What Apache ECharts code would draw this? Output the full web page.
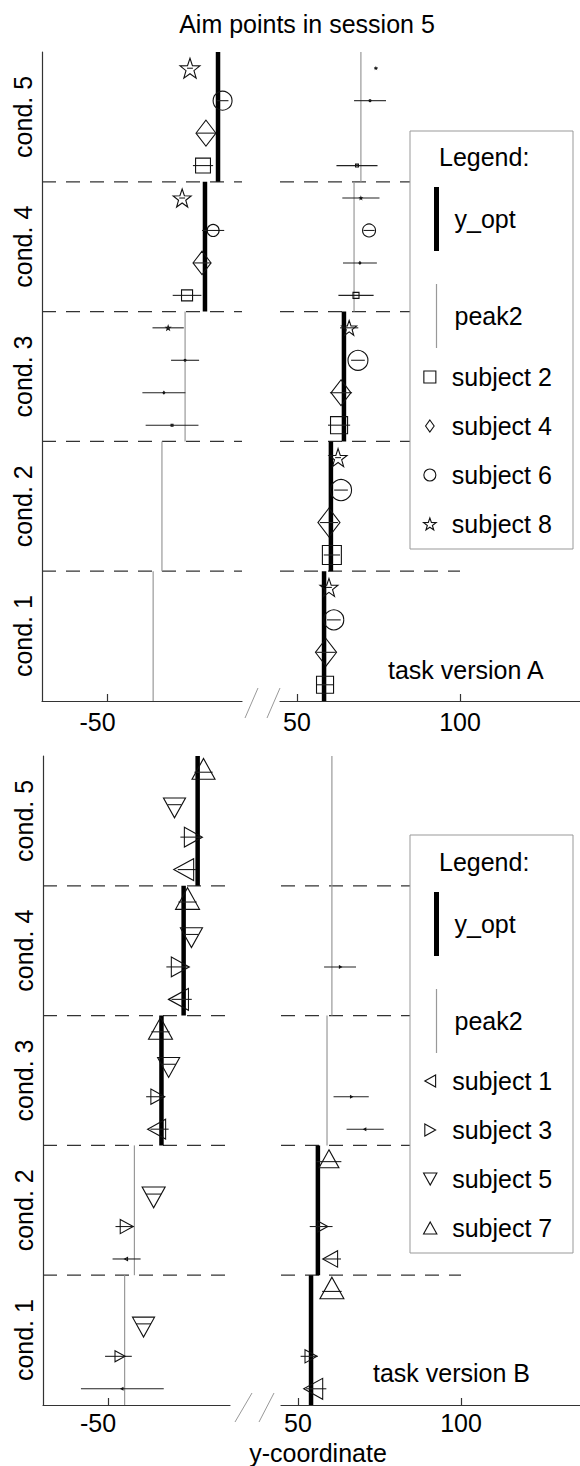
<!DOCTYPE html>
<html><head><meta charset="utf-8">
<script src="https://cdn.jsdelivr.net/npm/echarts@6/dist/echarts.min.js"></script>
<style>html,body{margin:0;padding:0;background:#fff}#c{width:580px;height:1466px}</style>
</head><body><div id="c"></div>
<script>
// ---------- data ----------
const condLabels = ['cond. 1', 'cond. 2', 'cond. 3', 'cond. 4', 'cond. 5'];
const xTicksLeft = [-50];
const xTicksRight = [50, 100];
const boundaries = [1, 2, 3, 4];

// task version A (per condition 1..5)
const yOptA  = [58.3, 60.4, 64.4, -20.1, -16.1];
const peak2A = [-36.0, -33.3, -26.2, 67.5, 69.6];
// rows: [condition, mean, sd, share of aims]
const subject2 = [[1, 58.6, 2.5, 0.71], [2, 60.7, 2.5, 0.79], [3, 62.9, 3.4, 0.71], [3, -30.2, 8.1, 0.08],
                  [4, -25.6, 4.4, 0.46], [4, 68.1, 5.4, 0.25], [5, -20.7, 3.1, 0.62], [5, 68.4, 6.3, 0.12]];
const subject4 = [[1, 58.9, 3.0, 0.88], [2, 59.8, 2.8, 0.92], [3, 63.5, 3.4, 0.83], [3, -32.7, 6.6, 0.08],
                  [4, -21.0, 2.8, 0.75], [4, 69.3, 5.2, 0.08], [5, -19.8, 2.9, 0.83]];
const subject6 = [[1, 61.3, 2.1, 0.83], [2, 63.5, 2.1, 0.88], [3, 68.7, 2.1, 0.83], [3, -26.2, 4.3, 0.08],
                  [4, -17.6, 3.4, 0.50], [4, 72.1, 1.7, 0.54], [5, -14.7, 1.8, 0.79], [5, 72.4, 4.9, 0.08]];
const subject8 = [[1, 59.8, 0.9, 0.75], [2, 62.6, 0.9, 0.75], [3, 66.0, 2.8, 0.62], [3, -31.4, 4.8, 0.17],
                  [4, -27.1, 0.9, 0.75], [4, 69.6, 5.7, 0.08], [5, -24.7, 0.9, 0.83], [5, 74.2, 0.5, 0.05]];

// task version B
const yOptB  = [54.0, 56.1, -33.6, -26.8, -22.5];
const peak2B = [-44.9, -41.9, 58.9, 60.4, 60.4];
const subject1 = [[1, 55.6, 3.1, 0.79], [1, -45.6, 12.7, 0.08], [2, 60.6, 2.6, 0.62], [2, -44.3, 4.3, 0.12],
                  [3, -34.2, 2.8, 0.75], [3, 70.6, 5.7, 0.08], [4, -27.4, 3.1, 0.83], [5, -25.8, 2.8, 0.83]];
const subject3 = [[1, 53.4, 2.6, 0.50], [1, -46.8, 4.1, 0.42], [2, 57.1, 3.5, 0.42], [2, -44.9, 2.8, 0.54],
                  [3, -35.4, 2.9, 0.58], [3, 66.3, 5.4, 0.08], [4, -28.7, 3.4, 0.75], [4, 62.9, 4.9, 0.08],
                  [5, -24.7, 3.1, 0.75]];
const subject5 = [[1, -39.1, 2.3, 0.92], [2, -36.0, 2.3, 0.96], [3, -31.4, 2.2, 0.92], [4, -24.4, 2.0, 0.92],
                  [5, -29.6, 2.1, 0.92]];
const subject7 = [[1, 60.4, 3.0, 1.0], [2, 59.5, 3.8, 0.83], [3, -33.9, 2.8, 1.0], [4, -25.6, 2.8, 1.0],
                  [5, -20.7, 2.8, 0.96]];

// ---------- styling / layout ----------
const FONT = '"Liberation Sans", Arial, sans-serif';
const PXU = 3.26;              // pixels per unit on the x axes
const MARK = 24;               // marker size for share = 1
const SPLIT = 20;              // values below go on the left axis segment

const STAR = (function () {
  let d = '';
  for (let i = 0; i < 10; i++) {
    const r = i % 2 === 0 ? 1 : 0.4;
    const a = -Math.PI / 2 + i * Math.PI / 5;
    d += (i ? 'L' : 'M') + (r * Math.cos(a) + 1).toFixed(3) + ',' + (r * Math.sin(a) + 1).toFixed(3);
  }
  return 'path://' + d + 'Z';
})();
const SYM = {
  square:  {symbol: 'rect', size: s => s, offset: [0, 0], icon: 'path://M0,0H10V10H0Z'},
  diamond: {symbol: 'diamond', size: s => [s, s * 1.3], offset: [0, 0], icon: 'path://M5,0L10,7L5,14L0,7Z'},
  circle:  {symbol: 'circle', size: s => s, offset: [0, 0], icon: 'path://M0,5A5,5,0,1,0,10,5A5,5,0,1,0,0,5Z'},
  star:    {symbol: STAR, size: s => s, offset: [0, 0], icon: STAR},
  tleft:   {symbol: 'path://M0,5L9,0L9,10Z', size: s => [s, s * 1.1], offset: ['-16%', 0], icon: 'path://M0,5L9,0L9,10Z'},
  tright:  {symbol: 'path://M0,0L9,5L0,10Z', size: s => [s, s * 1.1], offset: ['16%', 0], icon: 'path://M0,0L9,5L0,10Z'},
  tdown:   {symbol: 'path://M0,0L10,0L5,9Z', size: s => [s, s * 0.9], offset: [0, '16%'], icon: 'path://M0,0L10,0L5,9Z'},
  tup:     {symbol: 'path://M5,0L10,9L0,9Z', size: s => [s, s * 0.9], offset: [0, '-16%'], icon: 'path://M5,0L10,9L0,9Z'}
};

// grids: [left, top, width, height, anchorPx, anchorValue, labelMargin]
const gridDefs = [
  [42, 52, 200, 649, 107.5, -50, 8], [280, 52, 300, 649, 297, 50, 8],
  [43, 756, 187, 649, 108, -50, 5], [281, 756, 299, 649, 298, 50, 5]
];

const panels = [
  {yOpt: yOptA, peak2: peak2A, g: [0, 1], dashEnd: [null, 100],
   subjects: [['subject 2', subject2, 'square'], ['subject 4', subject4, 'diamond'],
              ['subject 6', subject6, 'circle'], ['subject 8', subject8, 'star']]},
  {yOpt: yOptB, peak2: peak2B, g: [2, 3], dashEnd: [null, 100],
   subjects: [['subject 1', subject1, 'tleft'], ['subject 3', subject3, 'tright'],
              ['subject 5', subject5, 'tdown'], ['subject 7', subject7, 'tup']]}
];

const grid = [], xAxis = [], yAxis = [], series = [];
gridDefs.forEach((d, i) => {
  grid.push({left: d[0], top: d[1], width: d[2], height: d[3], containLabel: false, outerBoundsMode: 'none'});
  const min = d[5] - (d[4] - d[0]) / PXU;
  const max = min + d[2] / PXU;
  const leftSeg = i % 2 === 0;
  const ticks = leftSeg ? xTicksLeft : xTicksRight;
  xAxis.push({
    type: 'value', gridIndex: i, min: min, max: max,
    axisLine: {show: true, onZero: false, lineStyle: {color: '#333', width: 1.2}},
    axisTick: {show: true, inside: true, length: 7, customValues: ticks, lineStyle: {color: '#333', width: 1.2}},
    axisLabel: {customValues: ticks, fontSize: 25, fontFamily: FONT, color: '#000', margin: d[6],
                padding: leftSeg ? [0, 20, 0, 0] : 0},
    splitLine: {show: false}
  });
  if (leftSeg) {
    yAxis.push({
      type: 'value', gridIndex: i, min: 0, max: 5,
      axisLine: {show: true, onZero: false, lineStyle: {color: '#333', width: 1.2}},
      axisTick: {show: false},
      axisLabel: {customValues: [0.5, 1.5, 2.5, 3.5, 4.5], formatter: v => condLabels[Math.round(v - 0.5)],
                  rotate: 90, fontSize: 25, fontFamily: FONT, color: '#000', margin: 7},
      splitLine: {show: false}
    });
  } else {
    yAxis.push({type: 'value', gridIndex: i, min: 0, max: 5, show: false});
  }
});

function vline(width, color) {
  return function (params, api) {
    const a = api.coord([api.value(0), api.value(1) - 1]);
    const b = api.coord([api.value(0), api.value(1)]);
    return {type: 'line', shape: {x1: a[0], y1: a[1], x2: b[0], y2: b[1]},
            style: {stroke: color, lineWidth: width}};
  };
}
function hline(color, width, dash) {
  return function (params, api) {
    const a = api.coord([api.value(0), api.value(2)]);
    const b = api.coord([api.value(1), api.value(2)]);
    return {type: 'line', shape: {x1: a[0], y1: a[1], x2: b[0], y2: b[1]},
            style: {stroke: color, lineWidth: width, lineDash: dash || null}};
  };
}

panels.forEach(p => {
  p.g.forEach((gi, side) => {
    const ax = xAxis[gi];
    const inSide = v => side === 0 ? v < SPLIT : v >= SPLIT;
    const x0 = ax.min, x1 = p.dashEnd[side] == null ? ax.max : p.dashEnd[side];
    series.push({type: 'custom', xAxisIndex: gi, yAxisIndex: gi, silent: true, z: 1,
      renderItem: hline('#333', 1.2, [14, 10]), encode: {x: [0, 1], y: 2},
      data: boundaries.map(b => [x0, x1, b])});
    series.push({type: 'custom', name: 'peak2', xAxisIndex: gi, yAxisIndex: gi, silent: true, z: 2,
      itemStyle: {color: '#999'}, renderItem: vline(1.2, '#999'), encode: {x: 0, y: 1},
      data: p.peak2.map((v, c) => [v, c + 1]).filter(r => inSide(r[0]))});
    series.push({type: 'custom', name: 'y_opt', xAxisIndex: gi, yAxisIndex: gi, silent: true, z: 3,
      itemStyle: {color: '#000'}, renderItem: vline(4.5, '#000'), encode: {x: 0, y: 1},
      data: p.yOpt.map((v, c) => [v, c + 1]).filter(r => inSide(r[0]))});
    p.subjects.forEach((s, slot) => {
      const rows = s[1].filter(r => inSide(r[1]));
      const yOf = r => r[0] - 1 + 0.125 + 0.25 * slot;
      const sym = SYM[s[2]];
      series.push({type: 'custom', xAxisIndex: gi, yAxisIndex: gi, silent: true, z: 4,
        renderItem: hline('#222', 1.1), encode: {x: [0, 1], y: 2},
        data: rows.map(r => [r[1] - r[2], r[1] + r[2], yOf(r)])});
      series.push({type: 'scatter', name: s[0], xAxisIndex: gi, yAxisIndex: gi, silent: true, z: 5,
        symbol: sym.symbol, symbolSize: v => sym.size(Math.max(1.2, v[2] * MARK)), symbolOffset: sym.offset,
        itemStyle: {color: 'rgba(0,0,0,0)', borderColor: '#111', borderWidth: 1.1, opacity: 1},
        data: rows.map(r => [r[1], yOf(r), r[3]])});
    });
  });
});

function legendPair(top) {
  return {
    orient: 'vertical', left: 434, top: top, padding: 0, itemWidth: 26, itemHeight: 64, itemGap: 33,
    selectedMode: false, z: 20, textStyle: {fontSize: 25, fontFamily: FONT, color: '#000'},
    data: [{name: 'y_opt', icon: 'path://M0,0H5V64H0Z', itemStyle: {color: '#000', borderWidth: 0}},
           {name: 'peak2', icon: 'path://M0,0H1.2V64H0Z', itemStyle: {color: '#999', borderWidth: 0}}]
  };
}
function legendSubjects(top, subs) {
  return {
    orient: 'vertical', left: 423, top: top, padding: 0, itemWidth: 34, itemHeight: 12, itemGap: 19,
    selectedMode: false, z: 20, textStyle: {fontSize: 25, fontFamily: FONT, color: '#000', lineHeight: 30},
    data: subs.map(s => ({name: s[0], icon: SYM[s[2]].icon,
      itemStyle: {color: 'rgba(0,0,0,0)', borderColor: '#111', borderWidth: 1.1}}))
  };
}

function txt(t, x, y, align) {
  return {type: 'text', x: x, y: y, z: 20, silent: true,
    style: {text: t, font: '25px ' + FONT, fill: '#000', align: align, textAlign: align,
            verticalAlign: 'middle', textVerticalAlign: 'middle'}};
}
function box(y) {
  return {type: 'rect', z: 10, silent: true, shape: {x: 410, y: y, width: 163, height: 418},
          style: {fill: '#fff', stroke: '#999', lineWidth: 1}};
}
function brk(x1, y1, x2, y2) {
  return {type: 'line', z: 10, silent: true, shape: {x1: x1, y1: y1, x2: x2, y2: y2},
          style: {stroke: '#999', lineWidth: 1}};
}

const chart = echarts.init(document.getElementById('c'), null, {renderer: 'svg'});
chart.setOption({
  animation: false,
  backgroundColor: '#fff',
  grid: grid, xAxis: xAxis, yAxis: yAxis, series: series,
  legend: [legendPair(187), legendSubjects(362, panels[0].subjects),
           legendPair(892), legendSubjects(1066, panels[1].subjects)],
  graphic: [
    txt('Aim points in session 5', 307, 24, 'center'),
    box(131), box(835),
    txt('Legend:', 439, 157, 'left'), txt('Legend:', 439, 862, 'left'),
    txt('task version A', 388, 670, 'left'), txt('task version B', 373, 1373, 'left'),
    txt('y-coordinate', 318, 1453, 'center'),
    brk(245, 718, 258, 688), brk(267, 718, 280, 688),
    brk(235, 1422, 252, 1393), brk(259, 1422, 274, 1393)
  ]
});
</script></body></html>
